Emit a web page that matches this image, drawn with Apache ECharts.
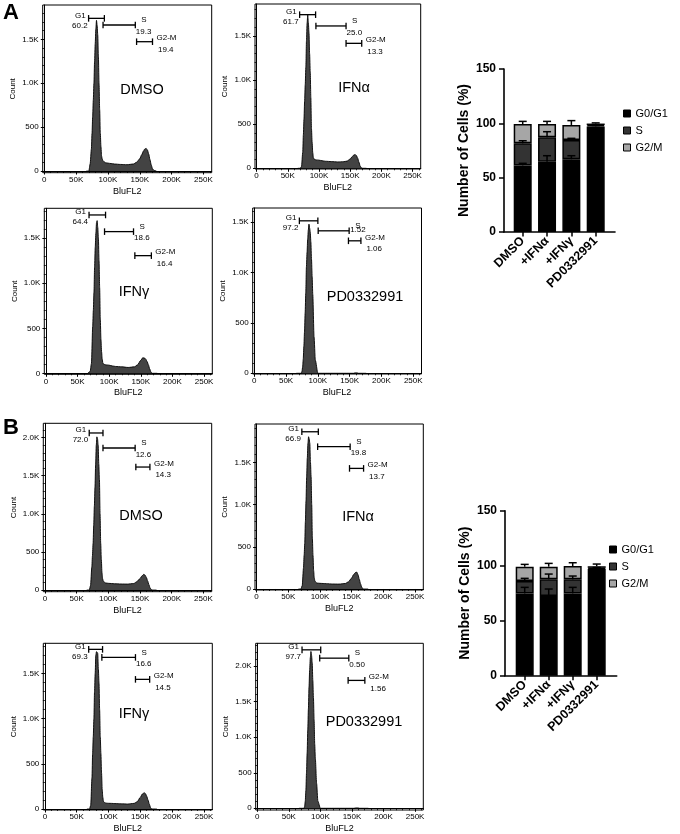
<!DOCTYPE html>
<html><head><meta charset="utf-8">
<script src="https://cdn.jsdelivr.net/npm/echarts@6/dist/echarts.min.js"></script>
<style>html,body{margin:0;padding:0;background:#fff}#c{width:680px;height:834px}</style>
</head><body><div id="c"></div>
<script>
// ---------------- DATA ----------------
// Histogram bins (BluFL2, in K)
const xBinsK = [66,70,72,74,75,76,77,78,79,80,81,82,83,84,85,86,87,88,89,90,91,92,94,96,100,105,110,120,130,140,145,150,153,156,158,160,162,164,166,168,170,173,176];
const countA_DMSO = [0,0,80,250,430,620,810,1000,1250,1450,1620,1716,1660,1550,1300,1000,700,430,280,170,140,120,105,95,90,85,80,75,72,80,100,140,185,230,252,258,240,195,130,70,25,5,0];
const countA_IFNa = [0,0,20,180,380,560,760,950,1150,1450,1650,1739,1650,1540,1300,1100,800,450,300,180,120,105,98,95,92,86,80,76,72,75,82,105,130,152,155,145,115,70,25,5,0,0,0];
const countA_IFNg = [0,20,110,520,700,900,1185,1400,1555,1670,1696,1620,1500,1250,950,600,380,240,160,115,105,100,95,93,90,82,76,72,65,72,95,145,172,170,155,130,95,50,15,0,0,0,0];
const countA_PD   = [0,0,0,0,20,60,140,270,410,600,800,1055,1200,1330,1420,1477,1440,1400,1300,1130,960,780,360,130,0,0,0,0,0,0,0,0,0,0,4,4,4,0,0,0,0,0,0];
const countB_DMSO = [0,0,60,300,450,614,850,1100,1350,1640,1900,2010,1980,1900,1650,1450,1000,614,400,230,150,120,100,92,88,85,82,79,78,85,110,150,185,206,195,165,120,70,25,5,0,0,0];
const countB_IFNa = [0,0,40,250,400,541,800,1050,1330,1550,1725,1804,1780,1725,1500,1330,1000,600,400,220,130,95,75,70,67,65,63,59,58,65,85,130,170,195,200,170,115,60,20,0,0,0,0];
const countB_IFNg = [0,0,40,350,615,800,1000,1300,1500,1700,1740,1735,1720,1550,1400,1100,800,615,400,220,130,85,70,65,63,62,60,57,55,62,80,130,165,180,170,140,100,55,15,0,0,0,0];
const countB_PD   = [0,0,0,0,20,100,250,500,780,1100,1400,1715,1950,2120,2206,2150,2050,1800,1550,1250,900,700,350,100,0,0,0,0,0,0,0,0,0,5,5,5,0,0,0,0,0,0,0];

const sampleNames = ['DMSO','IFNα','IFNγ','PD0332991','DMSO','IFNα','IFNγ','PD0332991'];
const gateNames = ['G1','S','G2-M'];
// gates: [startK, endK, countLevel]
const gatesA_DMSO = [[69.6,94.4,1739],[92.3,143,1663],[145,170,1473]];
const gatesA_IFNa = [[69,94.6,1742],[95.1,143.4,1614],[143.4,168.5,1417]];
const gatesA_IFNg = [[68.2,94.3,1759],[92.7,138.5,1574],[140.6,166.7,1307]];
const gatesA_PD   = [[70.9,100,1510],[100.5,149.2,1411],[148.1,167.7,1312]];
const gatesB_DMSO = [[69.9,91.6,2061],[91.6,142.3,1864],[143.4,165.6,1614]];
const gatesB_IFNa = [[71.4,97.4,1863],[96.3,147.6,1686],[146.6,168.8,1429]];
const gatesB_IFNg = [[68.8,90.6,1766],[89.5,142.3,1677],[142.3,164.6,1434]];
const gatesB_PD   = [[70.9,100.5,2229],[98.9,145,2112],[143.9,170.4,1799]];
const pctA_DMSO = ['60.2','19.3','19.4'];
const pctA_IFNa = ['61.7','25.0','13.3'];
const pctA_IFNg = ['64.4','18.6','16.4'];
const pctA_PD   = ['97.2','1.52','1.06'];
const pctB_DMSO = ['72.0','12.6','14.3'];
const pctB_IFNa = ['66.9','19.8','13.7'];
const pctB_IFNg = ['69.3','16.6','14.5'];
const pctB_PD   = ['97.7','0.50','1.56'];

const xTicksK = [0,50,100,150,200,250];
const yTicksSmall = [0,500,1000,1500];
const yTicksLarge = [0,500,1000,1500,2000];

// bar charts
const barCats = ['DMSO','+IFNα','+IFNγ','PD0332991'];
const phaseNames = ['G0/G1','S','G2/M'];
const barA_G1 = [61.3,64.7,66.9,97.2];
const barA_S  = [20.3,22.4,17.8,1.1];
const barA_G2 = [17.8,12.3,13.8,1.5];
const sdA_G1 = [1.9,5.5,3.3,0.8];
const sdA_S  = [2.4,5.2,1.5,0.4];
const sdA_G2 = [2.4,2.4,4.0,0.6];
const barB_G1 = [74.8,72.4,74.8,97.3];
const barB_S  = [11.2,15.2,12.8,0.8];
const barB_G2 = [13.1,11.5,12.1,1.4];
const sdB_G1 = [5.5,6.4,5.5,0.5];
const sdB_S  = [2.5,4.8,3.0,0.3];
const sdB_G2 = [2.1,3.0,3.0,2.0];

// ---------------- LAYOUT ----------------
const FONT = "'Liberation Sans', Arial, Helvetica, sans-serif";
const hist = [
  {box:[42.7,5,211.7,172.7],   y:[-19,1891], yt:yTicksSmall, c:countA_DMSO, g:gatesA_DMSO, p:pctA_DMSO, lab:[142,90]},
  {box:[255,4,420.7,169],      y:[-8,1863],  yt:yTicksSmall, c:countA_IFNa, g:gatesA_IFNa, p:pctA_IFNa, lab:[354,88]},
  {box:[44.3,208.3,212.3,374.3], y:[-11,1833], yt:yTicksSmall, c:countA_IFNg, g:gatesA_IFNg, p:pctA_IFNg, lab:[134,292]},
  {box:[252.7,208,421.5,374],  y:[-7,1637],  yt:yTicksSmall, c:countA_PD,   g:gatesA_PD,   p:pctA_PD,   lab:[365,297], sPct:[1,-1.5]},
  {box:[43.3,423.3,211.7,591.7], y:[-22,2188], yt:yTicksLarge, c:countB_DMSO, g:gatesB_DMSO, p:pctB_DMSO, lab:[141,516]},
  {box:[255,424,423.3,590],    y:[-12,1955], yt:yTicksSmall, c:countB_IFNa, g:gatesB_IFNa, p:pctB_IFNa, lab:[358,517]},
  {box:[43.3,643.3,212.3,810], y:[-11,1833], yt:yTicksSmall, c:countB_IFNg, g:gatesB_IFNg, p:pctB_IFNg, lab:[134,714]},
  {box:[255.7,643.3,423.3,810.7], y:[-24,2321], yt:yTicksLarge, c:countB_PD, g:gatesB_PD, p:pctB_PD, lab:[364,722]}
];
const bars = [
  {box:[504,69,615,232], x:[0.231,4.793], g1:barA_G1, s:barA_S, g2:barA_G2, e1:sdA_G1, es:sdA_S, e2:sdA_G2, legend:[618,103]},
  {box:[505,510.7,616.7,675.7], x:[0.179,4.833], g1:barB_G1, s:barB_S, g2:barB_G2, e1:sdB_G1, es:sdB_S, e2:sdB_G2, legend:[604,539]}
];

const grid = [], xAxis = [], yAxis = [], series = [], graphic = [], legend = [];
const minorX = []; for (let v = 10; v <= 260; v += 10) if (v % 50) minorX.push(v);
const kFmt = v => v === 0 ? '0' : v + 'K';
const yFmt = v => v === 0 ? '0' : (v < 1000 ? String(v) : (v/1000).toFixed(1) + 'K');

function gateRenderer(pcts, sPct) {
  return function (params, api) {
    const x1 = api.value(0), x2 = api.value(1), y = api.value(2), gi = api.value(3);
    const a = api.coord([x1, y]), b = api.coord([x2, y]);
    const yy = a[1];
    const ls = {stroke:'#000', lineWidth:1.3};
    const ch = [
      {type:'line', shape:{x1:a[0], y1:yy, x2:b[0], y2:yy}, style:ls},
      {type:'line', shape:{x1:a[0], y1:yy-3.3, x2:a[0], y2:yy+3.3}, style:ls},
      {type:'line', shape:{x1:b[0], y1:yy-3.3, x2:b[0], y2:yy+3.3}, style:ls}
    ];
    const ts = (t, x, y, al) => ({type:'text', style:{text:t, x:x, y:y, fill:'#000', fontSize:8, fontFamily:FONT, align:al, verticalAlign:'middle'}});
    if (gi === 0) {
      ch.push(ts(gateNames[0], a[0]-3, yy-3, 'right'));
      ch.push(ts(pcts[0], a[0]-1, yy+7, 'right'));
    } else if (gi === 1) {
      const o = sPct || [0.5, 6.5];
      ch.push(ts(gateNames[1], b[0]+6, yy-5, 'left'));
      ch.push(ts(pcts[1], b[0]+o[0], yy+o[1], 'left'));
    } else {
      ch.push(ts(gateNames[2], b[0]+4, yy-3.5, 'left'));
      ch.push(ts(pcts[2], b[0]+5.5, yy+8, 'left'));
    }
    return {type:'group', children:ch};
  };
}

hist.forEach((h, i) => {
  const [l, t, r, b] = h.box;
  grid.push({left:l, top:t, width:r-l, height:b-t, show:true, borderColor:'#000', borderWidth:1, backgroundColor:'transparent', containLabel:false});
  const minorY = []; for (let v = 100; v < h.y[1]; v += 100) if (v % 500) minorY.push(v);
  xAxis.push({type:'value', gridIndex:i, position:'bottom', min:-2.5, max:263,
    axisLine:{show:true, lineStyle:{color:'#000', width:1}},
    axisTick:{show:true, customValues:xTicksK, length:3.5, lineStyle:{color:'#000', width:1}},
    axisLabel:{customValues:xTicksK, formatter:kFmt, fontSize:8, fontFamily:FONT, color:'#000', margin:3},
    splitLine:{show:false},
    name:'BluFL2', nameLocation:'middle', nameGap:14, nameTextStyle:{fontSize:9, fontFamily:FONT, color:'#000'}});
  xAxis.push({type:'value', gridIndex:i, position:'bottom', min:-2.5, max:263,
    axisLine:{show:false}, axisTick:{show:true, customValues:minorX, length:2, lineStyle:{color:'#000', width:0.8}},
    axisLabel:{show:false, customValues:minorX}, splitLine:{show:false}});
  yAxis.push({type:'value', gridIndex:i, position:'left', min:h.y[0], max:h.y[1],
    axisLine:{show:true, lineStyle:{color:'#000', width:1}},
    axisTick:{show:true, customValues:h.yt, length:3.5, lineStyle:{color:'#000', width:1}},
    axisLabel:{customValues:h.yt, formatter:yFmt, fontSize:8, fontFamily:FONT, color:'#000', margin:4},
    splitLine:{show:false},
    name:'Count', nameLocation:'middle', nameGap:26, nameTextStyle:{fontSize:8, fontFamily:FONT, color:'#000'}});
  yAxis.push({type:'value', gridIndex:i, position:'left', min:h.y[0], max:h.y[1],
    axisLine:{show:false}, axisTick:{show:true, customValues:minorY, length:2, lineStyle:{color:'#000', width:0.8}},
    axisLabel:{show:false, customValues:minorY}, splitLine:{show:false}});
  series.push({type:'line', xAxisIndex:2*i, yAxisIndex:2*i, data:xBinsK.map((x, k) => [x, h.c[k]]),
    showSymbol:false, smooth:0.25, smoothMonotone:'x', lineStyle:{color:'#000', width:0.9},
    areaStyle:{color:'#434343', opacity:1, origin:0}, silent:true, z:2});
  series.push({type:'custom', xAxisIndex:2*i, yAxisIndex:2*i, clip:false, silent:true, z:5,
    data:h.g.map((g, k) => [g[0], g[1], g[2], k]), renderItem:gateRenderer(h.p, h.sPct)});
  graphic.push({type:'text', x:h.lab[0], y:h.lab[1], style:{text:sampleNames[i], fontSize:14.5, fontFamily:FONT, fill:'#000', align:'center', verticalAlign:'middle'}});
});

const phaseColors = ['#000000','#333333','#a6a6a6'];
function errRender(params, api) {
  const x = api.value(0), y0 = api.value(1), y1 = api.value(2);
  const p0 = api.coord([x, y0]), p1 = api.coord([x, y1]);
  const ls = {stroke:'#000', lineWidth:1.5};
  return {type:'group', children:[
    {type:'line', shape:{x1:p0[0], y1:p0[1], x2:p1[0], y2:p1[1]}, style:ls},
    {type:'line', shape:{x1:p1[0]-4, y1:p1[1], x2:p1[0]+4, y2:p1[1]}, style:ls}
  ]};
}
bars.forEach((bc, j) => {
  const [l, t, r, b] = bc.box;
  const pos = v => l + (v - bc.x[0]) / (bc.x[1] - bc.x[0]) * (r - l);
  const gVis = grid.length;
  grid.push({left:l, top:t, width:r-l, height:b-t, show:false, containLabel:false});
  const gBar = grid.length;
  grid.push({left:pos(0.5), top:t, width:pos(4.5)-pos(0.5), height:b-t, show:false, containLabel:false});
  const aVis = xAxis.length;
  xAxis.push({type:'value', gridIndex:gVis, position:'bottom', min:bc.x[0], max:bc.x[1],
    axisLine:{show:true, lineStyle:{color:'#000', width:1.6}},
    axisTick:{show:true, customValues:[1,2,3,4], length:4.5, lineStyle:{color:'#000', width:1.5}},
    axisLabel:{customValues:[1,2,3,4], formatter:v => barCats[Math.round(v)-1], rotate:45, fontSize:12.5, fontWeight:'bold', fontFamily:FONT, color:'#000', margin:7},
    splitLine:{show:false}});
  yAxis.push({type:'value', gridIndex:gVis, position:'left', min:0, max:150, interval:50,
    axisLine:{show:true, lineStyle:{color:'#000', width:1.6}},
    axisTick:{show:true, length:5, lineStyle:{color:'#000', width:1.5}},
    axisLabel:{fontSize:12, fontWeight:'bold', fontFamily:FONT, color:'#000', margin:8},
    splitLine:{show:false},
    name:'Number of Cells (%)', nameLocation:'middle', nameGap:33,
    nameTextStyle:{fontSize:14, fontWeight:'bold', fontFamily:FONT, color:'#000'}});
  const aBar = xAxis.length;
  xAxis.push({type:'category', gridIndex:gBar, data:barCats, show:false, boundaryGap:true});
  yAxis.push({type:'value', gridIndex:gBar, min:0, max:150, show:false, splitLine:{show:false}});
  const vals = [bc.g1, bc.s, bc.g2], sds = [bc.e1, bc.es, bc.e2];
  vals.forEach((v, k) => {
    series.push({type:'bar', name:phaseNames[k], xAxisIndex:aBar, yAxisIndex:aBar, stack:'st'+j, barWidth:18,
      data:v.slice(),
      itemStyle:{color:phaseColors[k], borderColor:'#000', borderWidth:1.5}, silent:true, z:2});
  });
  const err = [];
  for (let c = 0; c < 4; c++) {
    let cum = 0;
    for (let k = 0; k < 3; k++) { cum += vals[k][c]; err.push([c+1, cum, cum + sds[k][c]]); }
  }
  series.push({type:'custom', xAxisIndex:aVis, yAxisIndex:aVis, clip:false, silent:true, z:6, data:err, renderItem:errRender});
  legend.push({orient:'vertical', left:bc.legend[0], top:bc.legend[1], itemWidth:7, itemHeight:7, itemGap:6, icon:'rect',
    data:phaseNames, selectedMode:false,
    itemStyle:{borderColor:'#000', borderWidth:1},
    textStyle:{fontSize:11, fontFamily:FONT, color:'#000'}});
});

graphic.push({type:'text', x:3, y:2, style:{text:'A', fontSize:22, fontWeight:'bold', fontFamily:FONT, fill:'#000'}});
graphic.push({type:'text', x:3, y:417, style:{text:'B', fontSize:22, fontWeight:'bold', fontFamily:FONT, fill:'#000'}});

const chart = echarts.init(document.getElementById('c'), null, {renderer:'canvas'});
chart.setOption({animation:false, backgroundColor:'#fff', grid, xAxis, yAxis, series, legend, graphic});
</script></body></html>
